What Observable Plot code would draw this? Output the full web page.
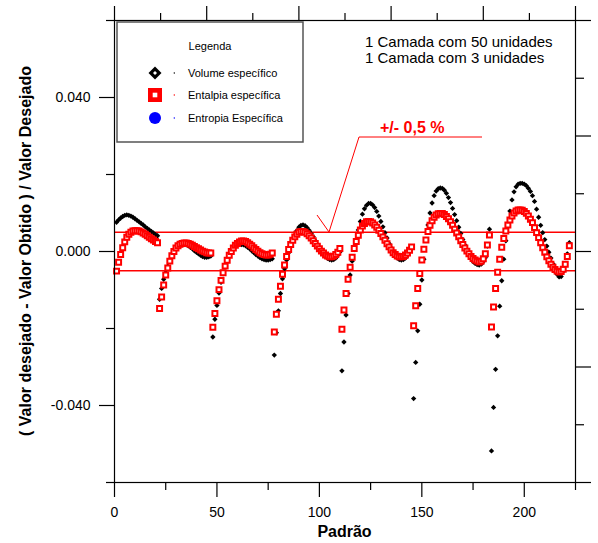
<!DOCTYPE html>
<html><head><meta charset="utf-8">
<script src="https://cdn.jsdelivr.net/npm/d3@7"></script>
<script src="https://cdn.jsdelivr.net/npm/@observablehq/plot@0.6"></script>
<style>body{margin:0;background:#fff}</style>
</head><body><div id="chart"></div>
<script>
// Padrão index (x)
const padraoStart = 1, padraoEnd = 222;
// Volume específico (black diamonds)
const volumeEspecifico = [
 0.0076,0.0082,0.0087,0.0091,0.0094,0.0095,0.0094,0.0092,0.0089,0.0085,0.0081,0.0077,0.0073,0.0069,0.0064,0.0060,0.0056,0.0052,0.0048,0.0044,0.0041,
 -0.0124,-0.0096,-0.0072,-0.0055,-0.0038,-0.0024,-0.0012,-0.0003,0.0005,0.0011,0.0015,0.0017,0.0018,0.0017,0.0015,0.0011,0.0007,0.0002,-0.0002,-0.0006,-0.0010,-0.0013,-0.0015,-0.0015,-0.0014,-0.0012,
 -0.0222,-0.0176,-0.0140,-0.0108,-0.0080,-0.0058,-0.0038,-0.0022,-0.0009,0.0001,0.0008,0.0013,0.0016,0.0018,0.0018,0.0017,0.0015,0.0011,0.0007,0.0002,-0.0003,-0.0008,-0.0012,-0.0016,-0.0019,-0.0021,-0.0022,-0.0022,-0.0021,-0.0019,
 -0.0269,-0.0211,-0.0154,-0.0109,-0.0071,-0.0045,-0.0022,-0.0003,0.0013,0.0028,0.0042,0.0054,0.0063,0.0068,0.0069,0.0067,0.0062,0.0055,0.0047,0.0038,0.0028,0.0018,0.0009,0.0001,-0.0007,-0.0013,-0.0018,-0.0021,-0.0022,-0.0021,-0.0017,-0.0010,-0.0001,
 -0.0310,-0.0235,-0.0165,-0.0109,-0.0061,-0.0025,0.0005,0.0032,0.0056,0.0078,0.0097,0.0111,0.0120,0.0125,0.0125,0.0121,0.0114,0.0104,0.0092,0.0078,0.0064,0.0049,0.0035,0.0021,0.0009,-0.0002,-0.0011,-0.0017,-0.0021,-0.0022,-0.0021,-0.0017,-0.0010,-0.0001,0.0009,
 -0.0382,-0.0288,-0.0206,-0.0137,-0.0074,-0.0020,0.0030,0.0069,0.0100,0.0126,0.0145,0.0157,0.0163,0.0165,0.0164,0.0159,0.0151,0.0140,0.0127,0.0112,0.0096,0.0080,0.0063,0.0047,0.0031,0.0017,0.0004,-0.0008,-0.0018,-0.0026,-0.0031,-0.0034,-0.0035,-0.0033,-0.0026,-0.0016,0.0014,0.0058,
 -0.0518,-0.0405,-0.0306,-0.0219,-0.0142,-0.0076,-0.0020,0.0028,0.0070,0.0105,0.0134,0.0155,0.0168,0.0175,0.0177,0.0177,0.0175,0.0171,0.0164,0.0156,0.0145,0.0130,0.0110,0.0089,0.0068,0.0049,0.0031,0.0014,-0.0002,-0.0017,-0.0032,-0.0047,-0.0059,-0.0066,-0.0065,-0.0052,-0.0031,-0.0006,0.0023
];
// Entalpia específica (red squares)
const entalpiaEspecifica = [
 -0.0051,-0.0028,-0.0008,0.0010,0.0025,0.0037,0.0045,0.0050,0.0053,0.0054,0.0054,0.0053,0.0051,0.0048,0.0045,0.0041,0.0037,0.0033,0.0030,0.0026,0.0023,
 -0.0148,-0.0118,-0.0087,-0.0061,-0.0043,-0.0025,-0.0011,0.0000,0.0009,0.0015,0.0019,0.0021,0.0022,0.0022,0.0021,0.0019,0.0016,0.0013,0.0010,0.0007,0.0004,0.0001,-0.0001,-0.0003,-0.0004,-0.0004,
 -0.0197,-0.0161,-0.0128,-0.0099,-0.0075,-0.0055,-0.0038,-0.0023,-0.0010,0.0000,0.0009,0.0016,0.0021,0.0025,0.0027,0.0027,0.0026,0.0023,0.0019,0.0015,0.0010,0.0005,0.0001,-0.0003,-0.0006,-0.0008,-0.0009,-0.0009,-0.0007,-0.0004,
 -0.0209,-0.0163,-0.0124,-0.0090,-0.0059,-0.0035,-0.0013,0.0005,0.0018,0.0029,0.0038,0.0045,0.0050,0.0052,0.0052,0.0050,0.0046,0.0041,0.0035,0.0028,0.0021,0.0014,0.0007,0.0001,-0.0004,-0.0009,-0.0012,-0.0014,-0.0014,-0.0012,-0.0008,-0.0002,0.0008,
 -0.0202,-0.0152,-0.0109,-0.0072,-0.0041,-0.0015,0.0008,0.0026,0.0042,0.0056,0.0066,0.0073,0.0077,0.0078,0.0077,0.0074,0.0069,0.0063,0.0055,0.0047,0.0038,0.0029,0.0020,0.0012,0.0004,-0.0003,-0.0008,-0.0012,-0.0014,-0.0014,-0.0013,-0.0009,-0.0004,0.0003,0.0012,
 -0.0193,-0.0141,-0.0096,-0.0057,-0.0022,0.0006,0.0030,0.0052,0.0068,0.0080,0.0089,0.0095,0.0098,0.0099,0.0099,0.0096,0.0091,0.0085,0.0077,0.0068,0.0058,0.0048,0.0038,0.0028,0.0018,0.0009,0.0001,-0.0006,-0.0013,-0.0018,-0.0022,-0.0025,-0.0027,-0.0025,-0.0019,-0.0006,0.0017,0.0043,
 -0.0196,-0.0144,-0.0096,-0.0054,-0.0020,0.0011,0.0034,0.0053,0.0069,0.0082,0.0092,0.0100,0.0105,0.0108,0.0108,0.0107,0.0104,0.0099,0.0092,0.0084,0.0075,0.0062,0.0049,0.0036,0.0023,0.0010,-0.0002,-0.0014,-0.0024,-0.0033,-0.0041,-0.0047,-0.0051,-0.0053,-0.0052,-0.0046,-0.0033,-0.0013,0.0015
];
const tolerance = [0.005, -0.005];
const xMajorTicks = [0, 50, 100, 150, 200];
const xMinorTicks = [25, 75, 125, 175, 225];
const yMajorTicks = [-0.04, 0, 0.04];
const yMinorTicks = [-0.06, -0.02, 0.02, 0.06];
const topMajorTicks = [0, 45, 90, 135, 180, 225];
const topMinorTicks = [22.5, 67.5, 112.5, 157.5, 202.5];
const rightMajorTicks = [-0.06, -0.03, 0, 0.03, 0.06];
const rightMinorTicks = [-0.045, -0.015, 0.015, 0.045];
const seriesNames = ["Volume específico", "Entalpia específica", "Entropia Específica"];
const seriesColors = ["black", "red", "blue"];
const xTitle = "Padrão";
const yTitle = "( Valor desejado - Valor Obtido ) / Valor Desejado";
const notes = ["1 Camada com 50 unidades", "1 Camada com 3 unidades"];
const toleranceLabel = "+/- 0,5 %";
const legendTitle = "Legenda";

const padrao = d3.range(padraoStart, padraoEnd + 1);
const vol = padrao.map((x, i) => ({x, y: volumeEspecifico[i]}));
const ent = padrao.map((x, i) => ({x, y: entalpiaEspecifica[i]}));
const FONT = "'Liberation Sans', Arial, Helvetica, sans-serif";
const blank = () => "";
const tickStyle = {stroke: "black", strokeWidth: 1.2, label: null};

const chart = Plot.plot({
  width: 598, height: 543,
  marginLeft: 114, marginRight: 23, marginTop: 20, marginBottom: 61,
  style: {fontFamily: FONT, background: "white", color: "black", overflow: "visible"},
  x: {domain: [0, 225]},
  y: {domain: [-0.06, 0.06]},
  marks: [
    Plot.ruleY(tolerance, {stroke: "red", strokeWidth: 1.3}),
    Plot.dot(vol, {x: "x", y: "y", symbol: "diamond2", r: 2.4, fill: seriesColors[0], stroke: "none"}),
    Plot.dot(ent, {x: "x", y: "y", symbol: "square", r: 2.8, fill: "white", stroke: seriesColors[1], strokeWidth: 2}),
    Plot.frame({stroke: "black", strokeWidth: 1.2}),
    Plot.axisY({...tickStyle, anchor: "left", ticks: yMajorTicks, tickSize: 15, tickPadding: 9, fontSize: 14, tickFormat: d => d.toFixed(3)}),
    Plot.axisY({...tickStyle, anchor: "left", ticks: yMinorTicks, tickSize: 8, tickFormat: blank}),
    Plot.axisY({...tickStyle, anchor: "right", ticks: rightMajorTicks, tickSize: 15, tickFormat: blank}),
    Plot.axisY({...tickStyle, anchor: "right", ticks: rightMinorTicks, tickSize: 8, tickFormat: blank}),
    Plot.axisX({...tickStyle, anchor: "bottom", ticks: xMajorTicks, tickSize: 15, tickPadding: 10, fontSize: 14, tickFormat: d => String(d)}),
    Plot.axisX({...tickStyle, anchor: "bottom", ticks: xMinorTicks, tickSize: 8, tickFormat: blank}),
    Plot.axisX({...tickStyle, anchor: "top", ticks: topMajorTicks, tickSize: 15, tickFormat: blank}),
    Plot.axisX({...tickStyle, anchor: "top", ticks: topMinorTicks, tickSize: 8, tickFormat: blank})
  ]
});
document.getElementById("chart").appendChild(chart);

const svg = d3.select(chart);
const g = svg.append("g").attr("font-family", FONT).attr("text-anchor", "start");
// axis titles
g.append("text").attr("x", 344.5).attr("y", 537).attr("text-anchor", "middle")
  .attr("font-size", 16).attr("font-weight", "bold").text(xTitle);
g.append("text").attr("transform", "translate(31,251) rotate(-90)").attr("text-anchor", "middle")
  .attr("font-size", 16).attr("font-weight", "bold").text(yTitle);
// legend
g.append("rect").attr("x", 117).attr("y", 22).attr("width", 186).attr("height", 120)
  .attr("fill", "white").attr("stroke", "#555").attr("stroke-width", 1.5);
g.append("text").attr("x", 210).attr("y", 50).attr("text-anchor", "middle").attr("font-size", 11).text(legendTitle);
const ly = [73, 95, 118];
g.append("path").attr("d", `M155,${ly[0]-6.5}L161.5,${ly[0]}L155,${ly[0]+6.5}L148.5,${ly[0]}Z`).attr("fill", seriesColors[0]);
g.append("path").attr("d", `M155,${ly[0]-2}L157,${ly[0]}L155,${ly[0]+2}L153,${ly[0]}Z`).attr("fill", "white");
g.append("rect").attr("x", 148).attr("y", ly[1]-7).attr("width", 14).attr("height", 14).attr("fill", seriesColors[1]);
g.append("rect").attr("x", 152.7).attr("y", ly[1]-2.3).attr("width", 4.6).attr("height", 4.6).attr("fill", "white");
g.append("circle").attr("cx", 155).attr("cy", ly[2]).attr("r", 6).attr("fill", seriesColors[2]);
seriesNames.forEach((n, i) => {
  g.append("circle").attr("cx", 174.3).attr("cy", ly[i]).attr("r", 0.7).attr("fill", seriesColors[i]);
  g.append("text").attr("x", 188).attr("y", ly[i] + 4).attr("text-anchor", "start").attr("font-size", 11).text(n);
});
// notes
notes.forEach((t, i) => g.append("text").attr("x", 365).attr("y", 47 + 16 * i).attr("text-anchor", "start").attr("font-size", 15).text(t));
// tolerance annotation
g.append("polyline").attr("points", "482,137 359,137 329,232").attr("fill", "none").attr("stroke", "red").attr("stroke-width", 1);
g.append("line").attr("x1", 317).attr("y1", 215).attr("x2", 329).attr("y2", 232).attr("stroke", "red").attr("stroke-width", 1);
g.append("text").attr("x", 380).attr("y", 132.5).attr("text-anchor", "start").attr("font-size", 16).attr("font-weight", "bold").attr("fill", "red").text(toleranceLabel);
</script></body></html>
